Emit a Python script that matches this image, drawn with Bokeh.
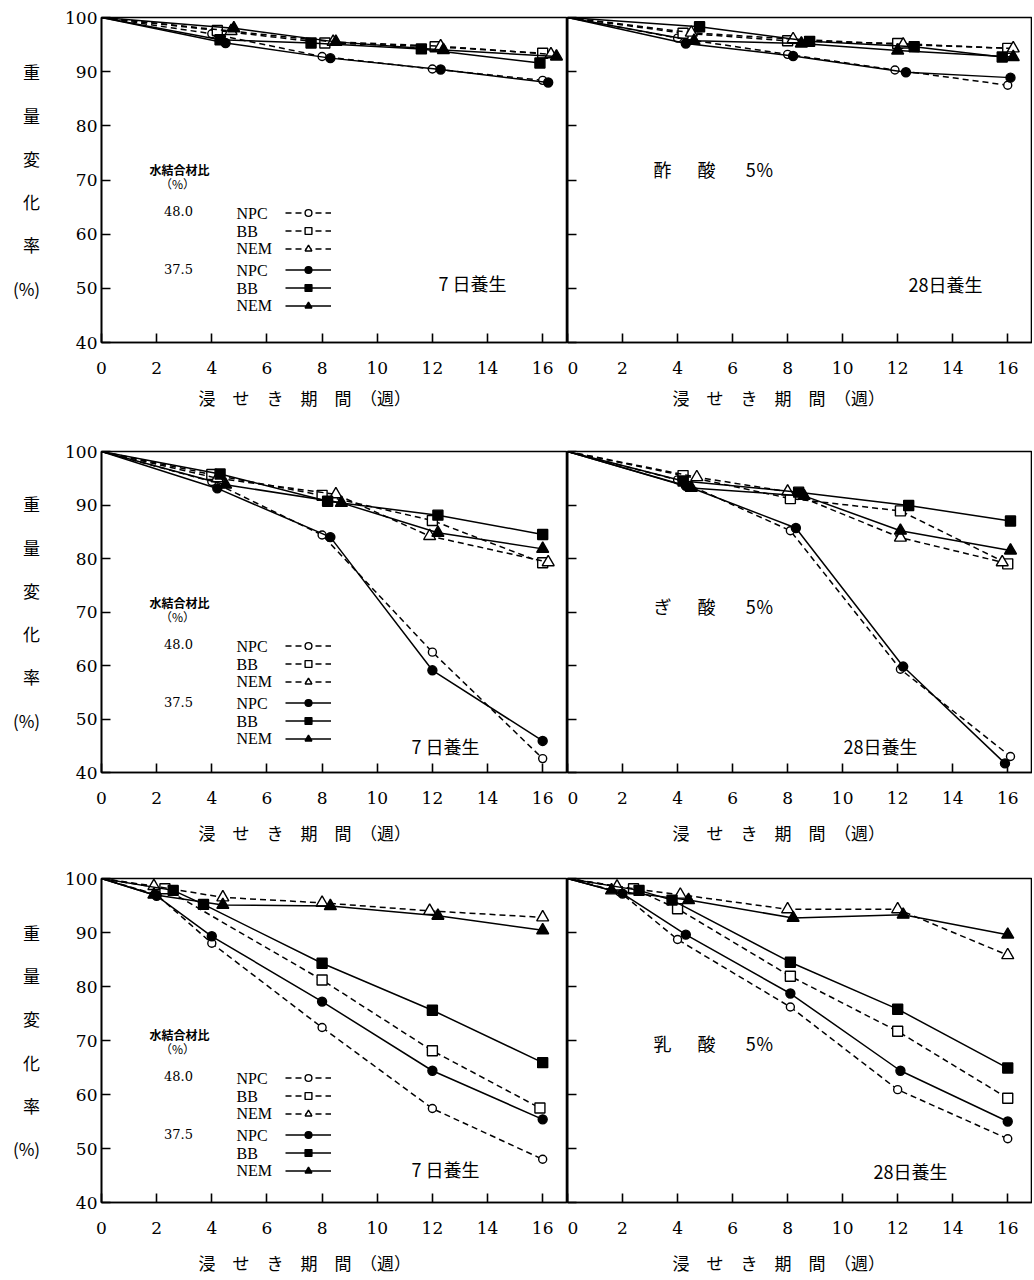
from bokeh.plotting import figure
from bokeh.layouts import column, row
from bokeh.models import Label, Legend, LegendItem, FixedTicker, Range1d
from bokeh.embed import file_html
from bokeh.resources import INLINE

# ---------------- data ----------------
week_ticks = [0, 2, 4, 6, 8, 10, 12, 14, 16]
pct_ticks = [40, 50, 60, 70, 80, 90, 100]
cement_names = ["NPC", "BB", "NEM", "NPC", "BB", "NEM"]
wb_ratio_labels = ["48.0", "37.5"]
GAP1 = "\u3000\u00a0\u00a0"
GAP2 = "\u3000\u00a0\u00a0\u00a0"
acid_labels = ["酢" + GAP1 + "酸" + GAP2 + "5\uff05",
               "ぎ" + GAP1 + "酸" + GAP2 + "5\uff05",
               "乳" + GAP1 + "酸" + GAP2 + "5\uff05"]
curing_labels = ["7\u00a0日養生", "28日養生"]
x_title = "浸　せ　き　期　間　（週）"
y_title = "重\n量\n変\n化\n率\n(%)"

# series order: NPC 48.0, BB 48.0, NEM 48.0, NPC 37.5, BB 37.5, NEM 37.5
acetic_7d_x = [[0, 4.0, 8.0, 12.0, 16.0], [0, 4.2, 8.1, 12.1, 16.0], [0, 4.7, 8.4, 12.3, 16.3],
               [0, 4.5, 8.3, 12.3, 16.2], [0, 4.3, 7.6, 11.6, 15.9], [0, 4.8, 8.5, 12.4, 16.5]]
acetic_7d_y = [[100, 97.0, 92.8, 90.5, 88.4], [100, 97.6, 95.3, 94.6, 93.4], [100, 97.5, 95.5, 94.7, 93.2],
               [100, 95.3, 92.5, 90.4, 88.0], [100, 95.9, 95.3, 94.2, 91.6], [100, 98.0, 95.5, 94.0, 92.8]]

acetic_28d_x = [[0, 4.0, 8.0, 11.9, 16.0], [0, 4.2, 8.0, 12.0, 16.0], [0, 4.5, 8.2, 12.2, 16.2],
                [0, 4.3, 8.2, 12.3, 16.1], [0, 4.8, 8.8, 12.6, 15.8], [0, 4.6, 8.5, 12.0, 16.2]]
acetic_28d_y = [[100, 96.2, 93.2, 90.3, 87.5], [100, 97.1, 95.7, 95.2, 94.3], [100, 97.2, 96.0, 95.0, 94.3],
                [100, 95.2, 92.9, 89.9, 88.9], [100, 98.3, 95.6, 94.6, 92.7], [100, 95.7, 95.2, 93.9, 92.7]]

formic_7d_x = [[0, 4.0, 8.0, 12.0, 16.0], [0, 4.0, 8.0, 12.0, 16.0], [0, 4.2, 8.5, 11.9, 16.2],
               [0, 4.2, 8.3, 12.0, 16.0], [0, 4.3, 8.2, 12.2, 16.0], [0, 4.5, 8.7, 12.2, 16.0]]
formic_7d_y = [[100, 94.4, 84.4, 62.5, 42.6], [100, 95.7, 91.8, 87.1, 79.2], [100, 95.0, 92.0, 84.2, 79.3],
               [100, 93.1, 84.0, 59.1, 45.9], [100, 95.8, 90.7, 88.1, 84.5], [100, 93.8, 90.4, 84.8, 81.8]]

formic_28d_x = [[0, 4.0, 8.1, 12.1, 16.1], [0, 4.2, 8.1, 12.1, 16.0], [0, 4.7, 8.0, 12.1, 15.8],
                [0, 4.3, 8.3, 12.2, 15.9], [0, 4.2, 8.4, 12.4, 16.1], [0, 4.5, 8.6, 12.1, 16.1]]
formic_28d_y = [[100, 94.7, 85.2, 59.3, 43.0], [100, 95.5, 91.2, 88.9, 79.0], [100, 95.2, 92.5, 83.9, 79.3],
                [100, 93.6, 85.7, 59.8, 41.7], [100, 94.5, 92.4, 89.9, 87.0], [100, 93.2, 91.7, 85.2, 81.5]]

lactic_7d_x = [[0, 2.0, 4.0, 8.0, 12.0, 16.0], [0, 2.3, 8.0, 12.0, 15.9], [0, 1.9, 4.4, 8.0, 11.9, 16.0],
               [0, 2.0, 4.0, 8.0, 12.0, 16.0], [0, 2.6, 3.7, 8.0, 12.0, 16.0], [0, 1.9, 4.4, 8.3, 12.2, 16.0]]
lactic_7d_y = [[100, 97.0, 88.0, 72.4, 57.4, 48.0], [100, 98.1, 81.2, 68.1, 57.5], [100, 98.6, 96.5, 95.5, 94.0, 92.8],
               [100, 96.8, 89.3, 77.2, 64.4, 55.4], [100, 97.8, 95.2, 84.3, 75.6, 65.9], [100, 97.0, 95.1, 94.9, 93.1, 90.4]]

lactic_28d_x = [[0, 1.9, 4.0, 8.1, 12.0, 16.0], [0, 2.4, 4.0, 8.1, 12.0, 16.0], [0, 1.8, 4.1, 8.0, 12.0, 16.0],
                [0, 2.0, 4.3, 8.1, 12.1, 16.0], [0, 2.6, 3.8, 8.1, 12.0, 16.0], [0, 1.6, 4.4, 8.2, 12.2, 16.0]]
lactic_28d_y = [[100, 97.5, 88.7, 76.2, 60.9, 51.8], [100, 98.1, 94.4, 81.9, 71.7, 59.3], [100, 98.5, 97.0, 94.3, 94.3, 85.8],
                [100, 97.2, 89.6, 78.7, 64.4, 55.0], [100, 97.8, 96.0, 84.5, 75.8, 64.9], [100, 97.8, 96.0, 92.7, 93.3, 89.6]]

# ---------------- styles ----------------
STYLES = [
    dict(marker="circle", fill="white", dash="6 4", size=8),
    dict(marker="square", fill="white", dash="6 4", size=10),
    dict(marker="triangle", fill="white", dash="6 4", size=12),
    dict(marker="circle", fill="black", dash="solid", size=9),
    dict(marker="square", fill="black", dash="solid", size=10),
    dict(marker="triangle", fill="black", dash="solid", size=12),
]
JP = "Noto Sans CJK JP"
SERIF = "DejaVu Serif"

ROWS = [
    dict(height=430, top=17, bottom=88, title_standoff=8, leg_dy=2),
    dict(height=430, top=21, bottom=88, title_standoff=13, leg_dy=-1),
    dict(height=418, top=18, bottom=76, title_standoff=13, leg_dy=-3),
]


def make_panel(xs, ys, left, rowcfg, acid=None, acid_y=0, cure_xy=(0, 0), cure_text=""):
    if left:
        w, bl = 567, 101
    else:
        w, bl = 465, 0
    p = figure(width=w, height=rowcfg["height"], output_backend="svg", toolbar_location=None,
               x_range=Range1d(0, 16.9), y_range=Range1d(40, 100),
               min_border_left=bl, min_border_right=0,
               min_border_top=rowcfg["top"], min_border_bottom=rowcfg["bottom"])
    p.grid.visible = False
    p.outline_line_color = "black"
    p.outline_line_width = 1.6
    p.background_fill_color = "white"
    p.border_fill_color = "white"

    for ax in (p.xaxis[0], p.yaxis[0]):
        ax.axis_line_width = 1.6
        ax.major_tick_line_width = 1.6
        ax.major_tick_in = 9
        ax.major_tick_out = 0
        ax.minor_tick_line_color = None
        ax.major_label_text_font = SERIF
        ax.major_label_text_font_size = "17px"
        ax.major_label_text_color = "black"
    p.xaxis.ticker = FixedTicker(ticks=week_ticks)
    p.yaxis.ticker = FixedTicker(ticks=pct_ticks)
    p.xaxis.major_label_standoff = 19

    # x-axis title (trailing ideographic spaces shift it left as in the original)
    p.xaxis.axis_label = x_title + ("　　　　" if left else "　　　")
    p.xaxis.axis_label_text_font = JP
    p.xaxis.axis_label_text_font_size = "17px"
    p.xaxis.axis_label_text_font_style = "normal"
    p.xaxis.axis_label_text_color = "black"
    p.xaxis.axis_label_standoff = rowcfg["title_standoff"]

    if left:
        p.yaxis.major_label_standoff = 4
        p.yaxis.axis_label = y_title
        p.yaxis.axis_label_orientation = "horizontal"
        p.yaxis.axis_label_text_font = JP
        p.yaxis.axis_label_text_font_size = "17px"
        p.yaxis.axis_label_text_font_style = "normal"
        p.yaxis.axis_label_text_color = "black"
        p.yaxis.axis_label_text_align = "center"
        p.yaxis.axis_label_text_line_height = 1.73
        p.yaxis.axis_label_standoff = 22
    else:
        p.yaxis.major_label_overrides = {t: "" for t in pct_ticks}
        p.yaxis.major_label_standoff = 0
        p.yaxis.major_label_text_font_size = "1px"

    rends = []
    for i in range(6):
        st = STYLES[i]
        lr = p.line(xs[i], ys[i], line_color="black", line_width=1.5, line_dash=st["dash"])
        sr = p.scatter(xs[i][1:], ys[i][1:], marker=st["marker"], size=st["size"],
                       fill_color=st["fill"], line_color="black", line_width=1.4)
        rends.append((lr, sr))

    if left:
        dy = rowcfg["leg_dy"]
        p.add_layout(Label(x=78, y=171 + dy, x_units="screen", y_units="screen", text="水結合材比",
                           text_font=JP, text_font_size="12px", text_font_style="bold",
                           text_align="center", text_baseline="middle", text_color="black"))
        p.add_layout(Label(x=76, y=157 + dy, x_units="screen", y_units="screen", text="（%）",
                           text_font=JP, text_font_size="12px",
                           text_align="center", text_baseline="middle", text_color="black"))
        for lab, yy in zip(wb_ratio_labels, [130, 72]):
            p.add_layout(Label(x=77, y=yy + dy, x_units="screen", y_units="screen", text=lab,
                               text_font=SERIF, text_font_size="13px",
                               text_align="center", text_baseline="middle", text_color="black"))
        rows_y = [127, 109.5, 92, 70, 52.5, 35]
        for name, yy in zip(cement_names, rows_y):
            p.add_layout(Label(x=135, y=yy + dy, x_units="screen", y_units="screen", text=name,
                               text_font="Liberation Serif", text_font_size="16px",
                               text_align="left", text_baseline="middle", text_color="black"))
        for g in range(2):
            items = [LegendItem(label=" ", renderers=list(rends[g * 3 + k])) for k in range(3)]
            leg = Legend(items=items, location=(184, (rows_y[g * 3 + 2] - 8.5) + dy),
                         glyph_width=46, glyph_height=17, label_width=0, label_height=17,
                         label_standoff=0, label_text_font_size="1px", spacing=1, padding=0,
                         margin=0, border_line_alpha=0, background_fill_alpha=0)
            p.add_layout(leg)
    if acid is not None:
        p.add_layout(Label(x=86, y=acid_y, x_units="screen", y_units="screen", text=acid,
                           text_font=JP, text_font_size="18px", text_align="left",
                           text_baseline="middle", text_color="black"))
    p.add_layout(Label(x=cure_xy[0], y=cure_xy[1], x_units="screen", y_units="screen", text=cure_text,
                       text_font=JP, text_font_size="18px", text_align="left",
                       text_baseline="middle", text_color="black"))
    return p


p1 = make_panel(acetic_7d_x, acetic_7d_y, True, ROWS[0], cure_xy=(337, 60), cure_text=curing_labels[0])
p2 = make_panel(acetic_28d_x, acetic_28d_y, False, ROWS[0], acid=acid_labels[0], acid_y=174,
                cure_xy=(341, 59), cure_text=curing_labels[1])
p3 = make_panel(formic_7d_x, formic_7d_y, True, ROWS[1], cure_xy=(310, 27), cure_text=curing_labels[0])
p4 = make_panel(formic_28d_x, formic_28d_y, False, ROWS[1], acid=acid_labels[1], acid_y=167,
                cure_xy=(276, 27), cure_text=curing_labels[1])
p5 = make_panel(lactic_7d_x, lactic_7d_y, True, ROWS[2], cure_xy=(310, 34), cure_text=curing_labels[0])
p6 = make_panel(lactic_28d_x, lactic_28d_y, False, ROWS[2], acid=acid_labels[2], acid_y=160,
                cure_xy=(306, 32), cure_text=curing_labels[1])

layout = column(row(p1, p2), row(p3, p4), row(p5, p6))
open("out.html", "w").write(file_html(layout, INLINE))
